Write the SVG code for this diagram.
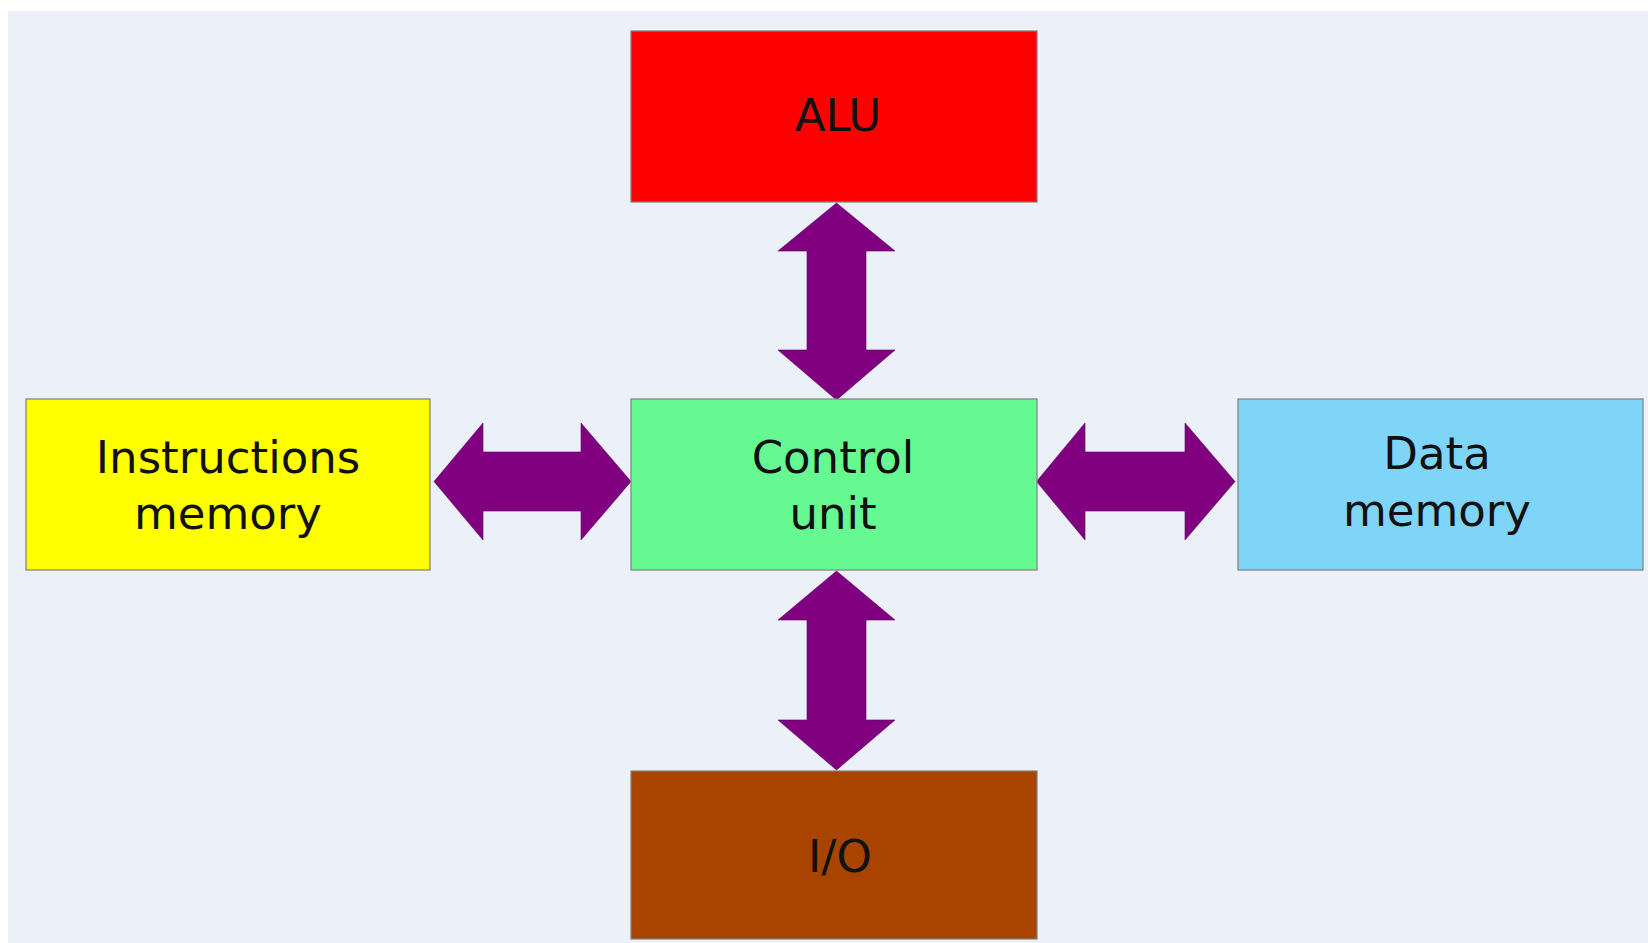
<svg xmlns="http://www.w3.org/2000/svg" width="1648" height="943" viewBox="0 0 1648 943">
<style>
.box{stroke:#7f7f7f;stroke-width:1.2}
.lbl{font-family:"DejaVu Sans",sans-serif;font-size:45px;fill:#111;text-anchor:middle}
.arr{fill:#800080;stroke:#5c005c;stroke-width:0.6;stroke-linejoin:miter}
</style>
<rect x="0" y="0" width="1648" height="943" fill="#ffffff"/>
<rect x="8" y="11" width="1640" height="932" fill="#ECF1F9"/>
<g id="connectors">
<polygon class="arr" points="836.5,203 895,251 866,251 866,350 895,350 836.5,400 778,350 807,350 807,251 778,251"/>
<polygon class="arr" points="836.5,571 895,620 866,620 866,720 895,720 836.5,770 778,720 807,720 807,620 778,620"/>
<polygon class="arr" points="434,481.5 483,423 483,452 581,452 581,423 631,481.5 581,540 581,511 483,511 483,540"/>
<polygon class="arr" points="1036.5,481.5 1085,423 1085,452 1185,452 1185,423 1235,481.5 1185,540 1185,511 1085,511 1085,540"/>
</g>
<g id="alu">
<rect class="box" x="631" y="31" width="406" height="171" fill="#FF0000"/>
<text class="lbl" x="838" y="131">ALU</text>
</g>
<g id="instructions-memory">
<rect class="box" x="26" y="399" width="404" height="171" fill="#FFFF00"/>
<text class="lbl" x="228" y="473">Instructions</text>
<text class="lbl" x="228" y="529">memory</text>
</g>
<g id="control-unit">
<rect class="box" x="631" y="399" width="406" height="171" fill="#66F991"/>
<text class="lbl" x="833" y="473">Control</text>
<text class="lbl" x="833" y="529">unit</text>
</g>
<g id="data-memory">
<rect class="box" x="1238" y="399" width="405" height="171" fill="#7FD5F7"/>
<text class="lbl" x="1437" y="469">Data</text>
<text class="lbl" x="1437" y="526">memory</text>
</g>
<g id="io">
<rect class="box" x="631" y="771" width="406" height="168" fill="#A84400"/>
<text class="lbl" x="840" y="872">I/O</text>
</g>
</svg>
